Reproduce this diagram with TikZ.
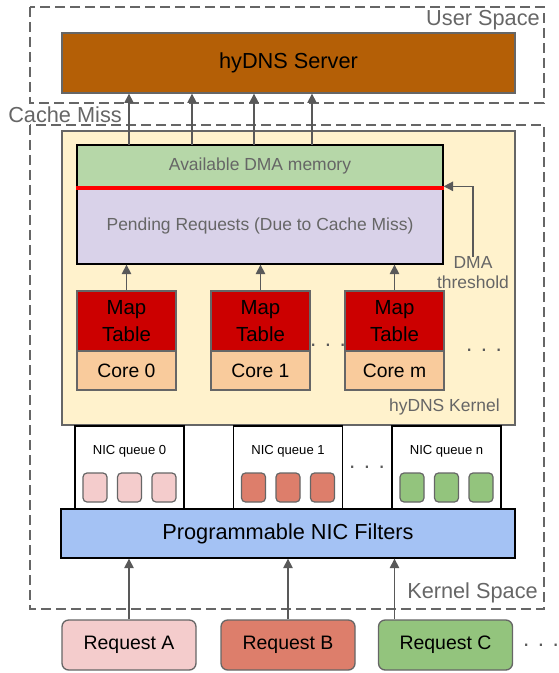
\documentclass[tikz,border=0pt]{standalone}
\usepackage{fontspec}
\setmainfont{Liberation Sans}
\usepackage{tikz}
\usetikzlibrary{arrows.meta}
\usepackage{xcolor}

\definecolor{serverc}{HTML}{B45F06}
\definecolor{kernelc}{HTML}{FFF2CC}
\definecolor{availc}{HTML}{B6D7A8}
\definecolor{pendc}{HTML}{D9D2E9}
\definecolor{mapc}{HTML}{CC0000}
\definecolor{corec}{HTML}{F9CB9C}
\definecolor{filterc}{HTML}{A4C2F4}
\definecolor{reqa}{HTML}{F4CCCC}
\definecolor{reqb}{HTML}{DD7E6B}
\definecolor{reqc}{HTML}{93C47D}
\definecolor{linegray}{HTML}{666666}
\definecolor{arrowgray}{HTML}{595959}

\begin{document}
\begin{tikzpicture}[x=0.75pt,y=0.75pt,yscale=-1,xscale=1,
  box/.style={draw=linegray, line width=1pt, inner sep=0pt, align=center},
  space/.style={draw=linegray, line width=1.1pt, dash pattern=on 7.5pt off 3.75pt},
  arr/.style={draw=arrowgray, line width=1pt, -{Triangle[length=7pt,width=7pt]}},
  note/.style={inner sep=0pt, text=linegray},
  dots/.style={inner sep=0pt, text=arrowgray, font=\fontsize{17}{17}\selectfont},
  slot/.style={draw=linegray, line width=0.9pt, rounded corners=3pt, inner sep=0pt, minimum width=18pt, minimum height=21.75pt},
  reqbox/.style={box, rounded corners=5pt, minimum width=100.5pt, minimum height=37.5pt, font=\fontsize{14.6}{17}\selectfont},
]
\useasboundingbox (0,0) rectangle (559,673);

%Shape: User Space / Kernel Space
\draw [space] (30,7) rectangle (544,103);
\draw [space] (30,125) rectangle (544,609);

% Text Node
\node [note, anchor=base east, font=\fontsize{16.3}{18}\selectfont] (userlab) at (540,26) {User Space};
% Text Node
\node [note, anchor=base west, font=\fontsize{16.3}{18}\selectfont] (misslab) at (8,123) {Cache Miss};
% Text Node
\node [note, anchor=base east, font=\fontsize{16.3}{18}\selectfont] (kernlab) at (538,598) {Kernel Space};

%Shape: hyDNS Server
\node [box, fill=serverc, minimum width=339.75pt, minimum height=45pt, font=\fontsize{16.3}{18}\selectfont] (server) at (288.5,63) {hyDNS Server};

%Shape: hyDNS Kernel
\node [draw=linegray, line width=0.8pt, fill=kernelc, inner sep=0pt, minimum width=339.75pt, minimum height=220.5pt] (kernel) at (288.5,278) {};
\node [note, anchor=base east, font=\fontsize{13.1}{15}\selectfont] (kernellab) at (500,411) {hyDNS Kernel};

%Shape: DMA memory
\node [box, draw=black, fill=availc, text=linegray, minimum width=274.5pt, minimum height=31.5pt, font=\fontsize{13.1}{15}\selectfont] (avail) at (260,166) {Available DMA memory};
\node [box, draw=black, fill=pendc, text=linegray, minimum width=274.5pt, minimum height=57.75pt, font=\fontsize{13.1}{15}\selectfont] (pend) at (260,225.5) {Pending Requests (Due to Cache Miss)};
\draw [red, line width=3pt] (avail.south west) -- (avail.south east);

% DMA threshold
\node [note, anchor=north, align=center, font=\fontsize{13.1}{14.5}\selectfont] (dma) at (473,256.5) {DMA\\threshold};
\draw [arr] (dma.north) |- (pend.north east);

% up to server
\foreach \x in {129,192,254,312} {
  \coordinate (up\x) at (\x,145);
  \draw [arr] (up\x) -- (up\x |- server.south);
}

% cores
\foreach \i/\x/\c in {0/126.5/0,1/260.5/1,2/394.5/m} {
  \node [box, fill=mapc, minimum width=74.25pt, minimum height=45pt, font=\fontsize{15.3}{20}\selectfont] (map\i) at (\x,321) {Map\\Table};
  \node [box, fill=corec, minimum width=74.25pt, minimum height=29.25pt, font=\fontsize{14.5}{17}\selectfont] (core\i) at (\x,370.5) {Core \c};
  \draw [arr] (map\i.north) -- (map\i.north |- pend.south);
}
\node [dots] (coredots) at (328,345) {. . .};
\node [dots] (kerndots) at (484,350) {. . .};

% NIC queues
\foreach \q/\x/\c in {0/129.5/reqa,1/288/reqb,n/446.5/reqc} {
  \node [draw=black, line width=0.9pt, fill=white, inner sep=0pt, minimum width=81.75pt, minimum height=62.25pt] (q\q) at (\x,467.5) {};
  \node [inner sep=0pt, anchor=base, font=\fontsize{9.8}{11}\selectfont] (q\q-l) at (\x,454) {NIC queue \q};
  \foreach \k/\d in {1/-34.5,2/0,3/34.5}
    \node [slot, fill=\c] (q\q-\k) at ({\x+\d},487.5) {};
}
\node [dots] (qdots) at (367,467) {. . .};

%Shape: NIC filters
\node [box, draw=black, fill=filterc, minimum width=340.5pt, minimum height=36.75pt, font=\fontsize{16.3}{18}\selectfont] (filters) at (288,533.5) {Programmable NIC Filters};

% requests
\node [reqbox, fill=reqa] (reqA) at (129,645) {Request A};
\node [reqbox, fill=reqb] (reqB) at (288,645) {Request B};
\node [reqbox, fill=reqc] (reqC) at (445.5,645) {Request C};
\node [dots] (reqdots) at (541,645) {. . .};

\draw [arr] (reqA.north) -- (reqA.north |- filters.south);
\draw [arr] (reqB.north) -- (reqB.north |- filters.south);
\draw [arr] (reqC.north -| map2.north) -- (map2.north |- filters.south);

\end{tikzpicture}
\end{document}
